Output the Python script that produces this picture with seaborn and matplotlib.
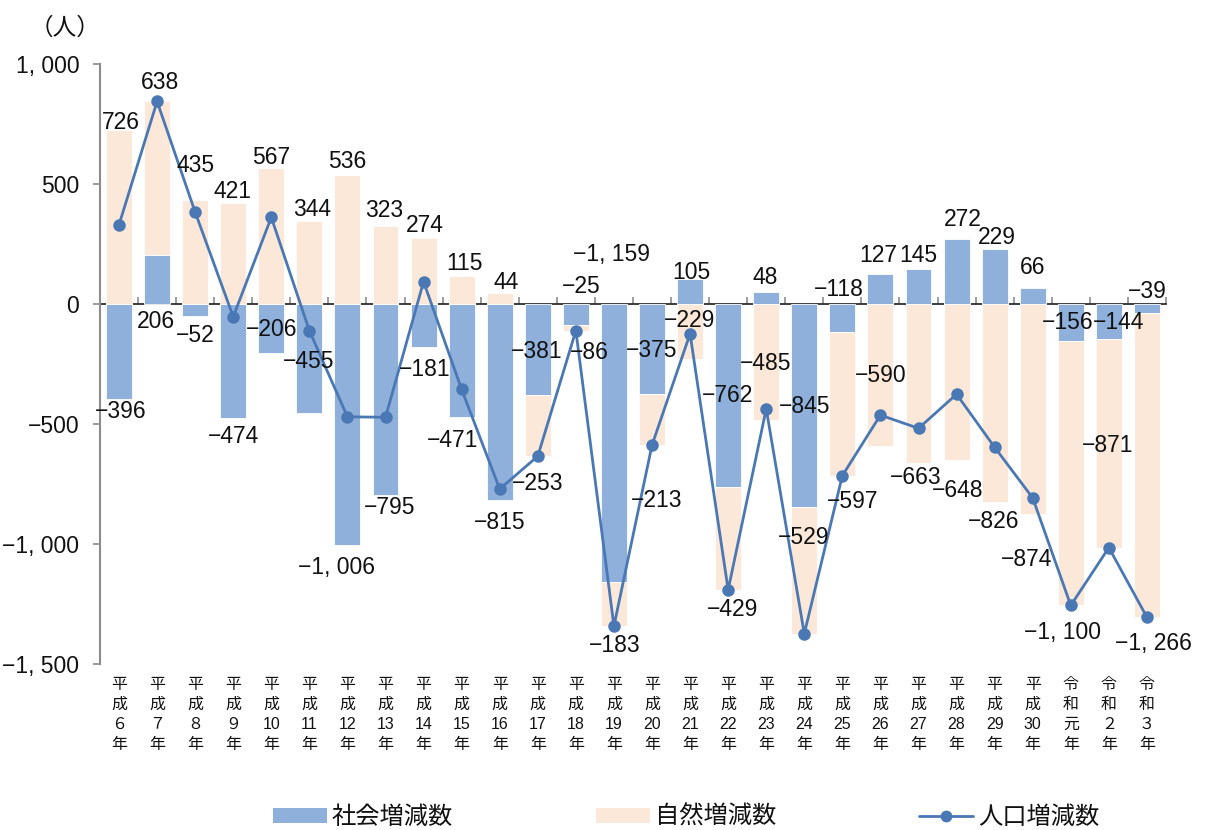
import numpy as np
import pandas as pd
import matplotlib
matplotlib.use("Agg")
import matplotlib.pyplot as plt
from matplotlib import font_manager
from matplotlib.patches import Patch
from matplotlib.lines import Line2D
import seaborn as sns

# ---- data -------------------------------------------------------------
years = ["平成6年", "平成7年", "平成8年", "平成9年", "平成10年", "平成11年",
         "平成12年", "平成13年", "平成14年", "平成15年", "平成16年", "平成17年",
         "平成18年", "平成19年", "平成20年", "平成21年", "平成22年", "平成23年",
         "平成24年", "平成25年", "平成26年", "平成27年", "平成28年", "平成29年",
         "平成30年", "令和元年", "令和2年", "令和3年"]
tick_labels = ["平\n成\n６\n年", "平\n成\n７\n年", "平\n成\n８\n年", "平\n成\n９\n年",
               "平\n成\n10\n年", "平\n成\n11\n年", "平\n成\n12\n年", "平\n成\n13\n年",
               "平\n成\n14\n年", "平\n成\n15\n年", "平\n成\n16\n年", "平\n成\n17\n年",
               "平\n成\n18\n年", "平\n成\n19\n年", "平\n成\n20\n年", "平\n成\n21\n年",
               "平\n成\n22\n年", "平\n成\n23\n年", "平\n成\n24\n年", "平\n成\n25\n年",
               "平\n成\n26\n年", "平\n成\n27\n年", "平\n成\n28\n年", "平\n成\n29\n年",
               "平\n成\n30\n年", "令\n和\n元\n年", "令\n和\n２\n年", "令\n和\n３\n年"]
social = [-396, 206, -52, -474, -206, -455, -1006, -795, -181, -471, -815, -381,
          -86, -1159, -375, 105, -762, 48, -845, -118, 127, 145, 272, 229, 66,
          -156, -144, -39]
natural = [726, 638, 435, 421, 567, 344, 536, 323, 274, 115, 44, -253, -25,
           -183, -213, -229, -429, -485, -529, -597, -590, -663, -648, -826,
           -874, -1100, -871, -1266]
y_ticks = [-1500, -1000, -500, 0, 500, 1000]

# ---- label placement (x shift in category units, y in data units) ------
social_dx = [0.05, -0.03, 0.0, 0.0, 0.0, -0.01, -0.29, 0.1, 0.02, -0.25, -0.01,
             -0.04, 0.36, -0.07, -0.01, 0.04, -0.02, -0.02, 0.0, -0.1, -0.05,
             0.0, 0.16, 0.05, 0.0, -0.08, 0.25, 0.0]
social_ly = [-450, -75, -133, -554, -108, -238, -1096, -850, -271, -567, -912,
             -196, -204, 208, -192, 133, -383, 112, -428, 62, 200, 200, 350,
             279, 154, -79, -79, 50]
natural_dx = [0.05, 0.08, 0.0, -0.03, 0.0, 0.07, 0.0, -0.03, 0.02, 0.07, 0.17,
              -0.01, 0.14, 0.01, 0.12, -0.02, 0.11, -0.02, -0.02, 0.27, 0.0,
              -0.07, 0.03, -0.02, -0.16, -0.21, -0.03, 0.18]
natural_ly = [758, 921, 579, 467, 612, 392, 592, 390, 325, 167, 88, -746, 71,
              -1421, -817, -67, -1271, -246, -975, -821, -300, -725, -779, -908,
              -1063, -1367, -588, -1413]

BLUE = "#8FB0DB"
PEACH = "#FCE8D8"
LINE = "#4A78B4"
AXIS_GRAY = "#8C8C8C"
TEXT = "#111111"
LABEL_SIZE = 16.5

# ---- fonts ------------------------------------------------------------
sns.set_theme(style="white")
available = {f.name for f in font_manager.fontManager.ttflist}
num_font = next((f for f in ["Liberation Sans Narrow", "Liberation Sans"]
                 if f in available), "DejaVu Sans")
NUM_FAMILY = [num_font, "Noto Sans CJK JP", "DejaVu Sans"]
CJK_FAMILY = ["Noto Sans CJK JP", "DejaVu Sans"]
plt.rcParams["font.family"] = NUM_FAMILY
plt.rcParams["axes.unicode_minus"] = True


def fmt(v):
    s = f"{abs(v):,}".replace(",", ", ")
    return ("\u2212" + s) if v < 0 else s


df = pd.DataFrame({"year": years, "social": social, "natural": natural})
df["total"] = df["social"] + df["natural"]
# natural bars stack on the social bar when both have the same sign
natural_bottom = [s if (s >= 0) == (n >= 0) else 0 for s, n in zip(social, natural)]

fig = plt.figure(figsize=(12.06, 8.3), dpi=100)
ax = fig.add_axes([0.0829, 0.2, 0.8839, 0.7229])

sns.barplot(data=df, x="year", y="social", color=BLUE, saturation=1,
            width=0.68, edgecolor="white", linewidth=0.6, ax=ax, zorder=2)
sns.barplot(data=df, x="year", y="natural", color=PEACH, saturation=1,
            width=0.68, edgecolor="white", linewidth=0.6, bottom=natural_bottom,
            ax=ax, zorder=2)
sns.pointplot(data=df, x="year", y="total", color=LINE, markers="o",
              markersize=7.5, linewidth=2.0, errorbar=None, ax=ax, zorder=4)

ax.set_xlim(-0.5, len(years) - 0.5)
ax.set_ylim(y_ticks[0], y_ticks[-1])
ax.set_xlabel("")
ax.set_ylabel("")

# y axis
ax.set_yticks(y_ticks, [fmt(v) for v in y_ticks])
ax.tick_params(axis="y", direction="out", length=5, width=1.2, color=AXIS_GRAY,
               pad=10, labelsize=LABEL_SIZE, labelcolor=TEXT, left=True)
for lab in ax.get_yticklabels():
    lab.set_fontfamily(NUM_FAMILY)

# x category labels along the bottom, stacked vertically
ax.set_xticks(range(len(years)), tick_labels)
ax.tick_params(axis="x", length=0, pad=9, labelsize=11.5, labelcolor=TEXT)
for lab in ax.get_xticklabels():
    lab.set_fontfamily(NUM_FAMILY)
    lab.set_linespacing(1.42)

for side in ["top", "right", "bottom"]:
    ax.spines[side].set_visible(False)
ax.spines["left"].set_color(AXIS_GRAY)
ax.spines["left"].set_linewidth(1.5)
ax.grid(False)

# zero line with category boundary ticks
zero_frac = (0 - y_ticks[0]) / (y_ticks[-1] - y_ticks[0])
sec = ax.secondary_xaxis(zero_frac)
sec.set_xticks(np.arange(-0.5, len(years), 1.0), [""] * (len(years) + 1))
sec.tick_params(axis="x", direction="out", length=5, width=1.2, color=AXIS_GRAY)
sec.spines["bottom"].set_color(AXIS_GRAY)
sec.spines["bottom"].set_linewidth(1.5)

# value labels
for i, (v, dx, ly) in enumerate(zip(social, social_dx, social_ly)):
    ax.text(i + dx, ly, fmt(v), ha="center", va="center", fontsize=LABEL_SIZE,
            color=TEXT, family=NUM_FAMILY, zorder=6)
for i, (v, dx, ly) in enumerate(zip(natural, natural_dx, natural_ly)):
    ax.text(i + dx, ly, fmt(v), ha="center", va="center", fontsize=LABEL_SIZE,
            color=TEXT, family=NUM_FAMILY, zorder=6)

# unit
fig.text(0.054, 0.966, "（人）", ha="center", va="center", fontsize=17,
         color=TEXT, family=CJK_FAMILY)

# legend
handles = [Patch(facecolor=BLUE, edgecolor="none"),
           Patch(facecolor=PEACH, edgecolor="none"),
           Line2D([0], [0], color=LINE, lw=2.0, marker="o", markersize=7.5)]
fig.legend(handles, ["社会増減数", "自然増減数", "人口増減数"], loc="center",
           bbox_to_anchor=(0.569, 0.0157), ncol=3, frameon=False,
           prop={"family": CJK_FAMILY, "size": 17.5}, handlelength=2.2,
           handleheight=0.6, columnspacing=5.9, handletextpad=0.2,
           labelcolor=TEXT)

fig.savefig("out.png", dpi=100)
